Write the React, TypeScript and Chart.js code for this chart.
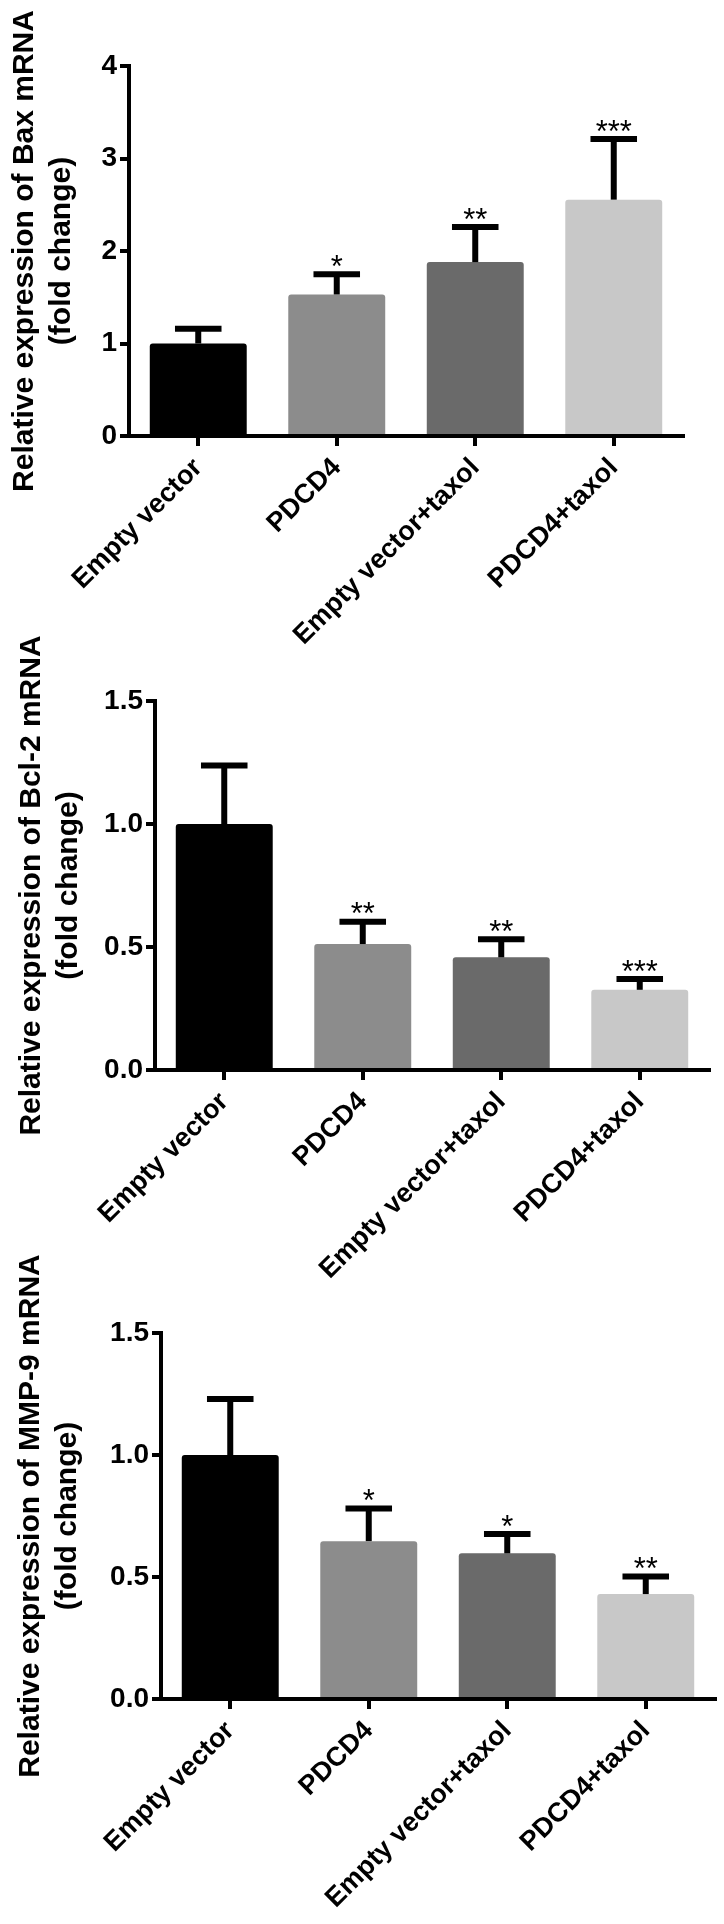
import React, { useEffect, useRef } from 'react';
import { Chart, registerables } from 'chart.js';

Chart.register(...registerables);
Chart.defaults.font.family = '"Liberation Sans", Arial, Helvetica, sans-serif';
Chart.defaults.color = '#000';

// ---------- data ----------
const categories = ['Empty vector', 'PDCD4', 'Empty vector+taxol', 'PDCD4+taxol'];
const barColors = ['#000000', '#8c8c8c', '#6a6a6a', '#c8c8c8'];

const baxMean = [1.0, 1.53, 1.88, 2.555];
const baxUpper = [1.16, 1.75, 2.26, 3.21];
const baxStars = ['', '*', '**', '***'];

const bcl2Mean = [1.0, 0.512, 0.458, 0.326];
const bcl2Upper = [1.238, 0.603, 0.532, 0.37];
const bcl2Stars = ['', '**', '**', '***'];

const mmp9Mean = [1.0, 0.647, 0.597, 0.43];
const mmp9Upper = [1.229, 0.781, 0.676, 0.502];
const mmp9Stars = ['', '*', '*', '**'];

const baxTitle = ['Relative expression of Bax mRNA', '(fold change)'];
const bcl2Title = ['Relative expression of Bcl-2 mRNA', '(fold change)'];
const mmp9Title = ['Relative expression of MMP-9 mRNA', '(fold change)'];

// ---------- layout ----------
const PAGE_H = 1924;
const panels = [
  { key: 'bax', title: baxTitle, mean: baxMean, upper: baxUpper, stars: baxStars, max: 4, step: 1, decimals: 0,
    plotTop: 66, plotBottom: 436, padRight: 41, axisX: 129, xHeight: 224, titleX: [25, 62] },
  { key: 'bcl2', title: bcl2Title, mean: bcl2Mean, upper: bcl2Upper, stars: bcl2Stars, max: 1.5, step: 0.5, decimals: 1,
    plotTop: 701, plotBottom: 1070, padRight: 15, axisX: 155, xHeight: 230, titleX: [32, 69] },
  { key: 'mmp9', title: mmp9Title, mean: mmp9Mean, upper: mmp9Upper, stars: mmp9Stars, max: 1.5, step: 0.5, decimals: 1,
    plotTop: 1333, plotBottom: 1699, padRight: 9, axisX: 161, xHeight: 225, titleX: [31, 68] },
];

const STAR_SIZE = 31;
const ERR_WIDTH = 6;
const TITLE_SIZE = 30;

const errorBarPlugin = {
  id: 'errorBars',
  afterDatasetsDraw(chart: any, _args: any, opts: any) {
    const { ctx } = chart;
    const meta = chart.getDatasetMeta(0);
    const yScale = chart.scales.y;
    const lw = ERR_WIDTH;
    ctx.save();
    ctx.strokeStyle = '#000';
    ctx.fillStyle = '#000';
    ctx.lineWidth = lw;
    ctx.lineCap = 'butt';
    meta.data.forEach((bar: any, i: number) => {
      const x = bar.x;
      const yTop = yScale.getPixelForValue(opts.upper[i]);
      const half = (bar.width * 0.48) / 2;
      ctx.beginPath();
      ctx.moveTo(x, bar.y);
      ctx.lineTo(x, yTop);
      ctx.stroke();
      ctx.beginPath();
      ctx.moveTo(x - half, yTop);
      ctx.lineTo(x + half, yTop);
      ctx.stroke();
      const s = opts.stars[i];
      if (s) {
        ctx.font = `normal ${STAR_SIZE}px "Liberation Sans", Arial, sans-serif`;
        ctx.textAlign = 'center';
        ctx.textBaseline = 'alphabetic';
        ctx.fillText(s, x, yTop - lw / 2 - 6 + 0.38 * STAR_SIZE);
      }
    });
    ctx.restore();
  },
};

const yTitlePlugin = {
  id: 'yTitle',
  afterDraw(chart: any, _args: any, opts: any) {
    const { ctx } = chart;
    const yScale = chart.scales.y;
    const yc = (yScale.top + yScale.bottom) / 2;
    ctx.save();
    ctx.fillStyle = '#000';
    ctx.font = `bold ${TITLE_SIZE}px "Liberation Sans", Arial, sans-serif`;
    ctx.textAlign = 'center';
    ctx.textBaseline = 'middle';
    opts.lines.forEach((line: string, i: number) => {
      ctx.save();
      ctx.translate(opts.xs[i], yc);
      ctx.rotate(-Math.PI / 2);
      ctx.fillText(line, 0, 0);
      ctx.restore();
    });
    ctx.restore();
  },
};

function Panel({ cfg }: { cfg: any }) {
  const ref = useRef<HTMLCanvasElement>(null);
  useEffect(() => {
    const chart = new Chart(ref.current as HTMLCanvasElement, {
      type: 'bar',
      data: {
        labels: categories,
        datasets: [
          {
            data: cfg.mean,
            backgroundColor: barColors,
            borderWidth: 0,
            borderRadius: 3,
            barPercentage: 0.7,
            categoryPercentage: 1,
          },
        ],
      },
      options: {
        responsive: false,
        animation: false,
        layout: {
          padding: {
            top: cfg.plotTop,
            right: cfg.padRight,
            left: 0,
            bottom: PAGE_H - cfg.plotBottom - cfg.xHeight,
          },
        },
        plugins: {
          legend: { display: false },
          tooltip: { enabled: false },
          errorBars: { upper: cfg.upper, stars: cfg.stars },
          yTitle: { lines: cfg.title, xs: cfg.titleX },
        } as any,
        scales: {
          x: {
            type: 'category',
            offset: true,
            grid: {
              display: true,
              offset: false,
              drawOnChartArea: false,
              drawTicks: true,
              tickLength: 10,
              lineWidth: 4,
              color: '#000',
            },
            border: { display: true, width: 4, color: '#000' },
            ticks: {
              autoSkip: false,
              maxRotation: 45,
              minRotation: 45,
              padding: 6,
              color: '#000',
              font: { size: 27, weight: 'bold' },
            },
            afterFit: (scale: any) => {
              scale.height = cfg.xHeight;
            },
          },
          y: {
            min: 0,
            max: cfg.max,
            grid: {
              display: true,
              drawOnChartArea: false,
              drawTicks: true,
              tickLength: 9,
              lineWidth: 4,
              color: '#000',
            },
            border: { display: true, width: 4, color: '#000' },
            ticks: {
              stepSize: cfg.step,
              padding: 3,
              color: '#000',
              font: { size: 28, weight: 'bold' },
              callback: (v: any) => Number(v).toFixed(cfg.decimals),
            },
            title: { display: false },
            afterFit: (scale: any) => {
              scale.width = cfg.axisX;
            },
          },
        },
      } as any,
      plugins: [errorBarPlugin, yTitlePlugin],
    });
    return () => chart.destroy();
  }, []);
  return (
    <canvas
      ref={ref}
      width={724}
      height={PAGE_H}
      style={{ position: 'absolute', left: 0, top: 0, width: 724, height: PAGE_H, display: 'block' }}
    />
  );
}

export default function App() {
  useEffect(() => {
    document.body.style.margin = '0';
  }, []);
  return (
    <div style={{ position: 'absolute', left: 0, top: 0, width: 724, height: PAGE_H, background: '#fff', overflow: 'hidden' }}>
      {panels.map((p) => (
        <Panel key={p.key} cfg={p} />
      ))}
    </div>
  );
}
